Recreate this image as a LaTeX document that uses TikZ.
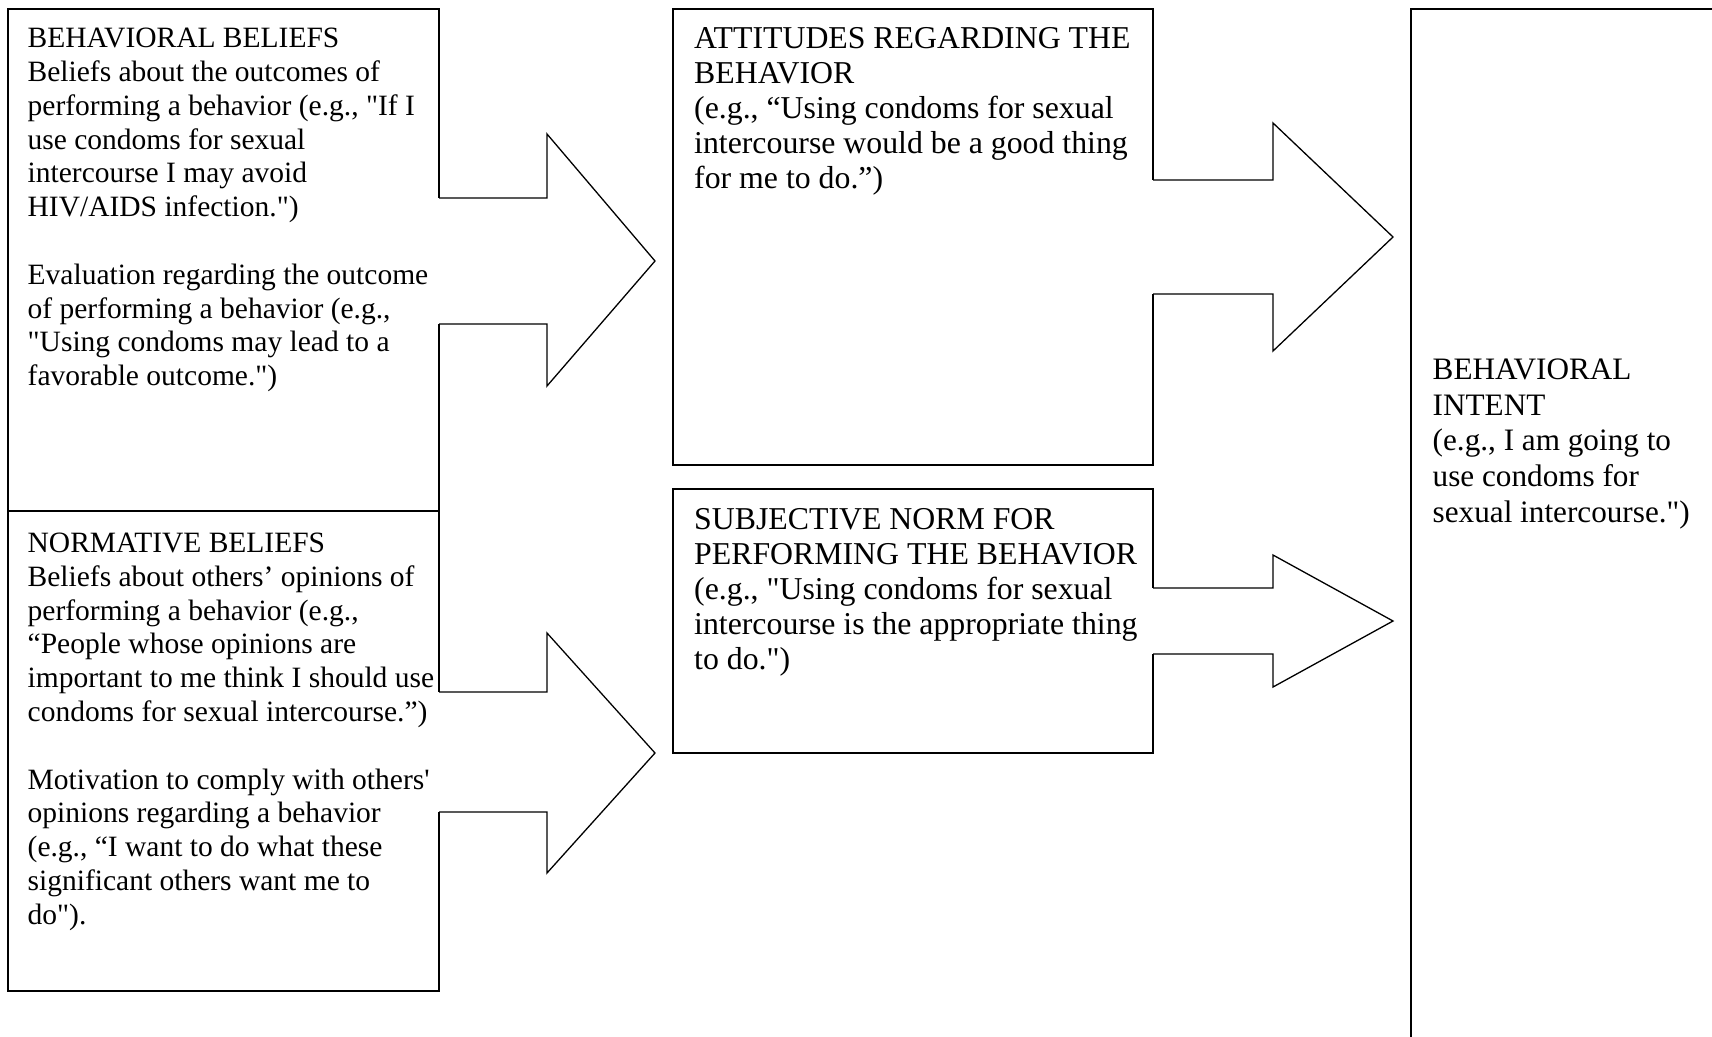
\documentclass[tikz,border=0pt]{standalone}
\usetikzlibrary{calc}
\font\fontL="Liberation Serif:-liga" at 29.5pt
\font\fontM="Liberation Serif:-liga" at 31.8pt
\font\fontR="Liberation Serif:-liga" at 31.2pt
\newcommand\firststrut{\vrule width 0pt height 25pt depth 0pt\relax}
\tikzset{
  box/.style={draw=black, line width=1.7pt, inner sep=0pt, outer sep=0pt, anchor=north west},
  arrowline/.style={draw=black, line width=1.3pt, line join=miter, line cap=butt},
  eraser/.style={draw=white, line width=3.2pt},
  txtL/.style={anchor=north west, inner sep=0pt, align=left, font={\fontL\baselineskip=33.8pt\relax}},
  txtM/.style={anchor=north west, inner sep=0pt, align=left, font={\fontM\baselineskip=35pt\relax}},
  txtR/.style={anchor=north west, inner sep=0pt, align=left, font={\fontR\baselineskip=35.8pt\relax}},
}
% #1 box node, #2 shaft end x, #3 tip x, #4 tip y, #5 shaft top, #6 shaft bottom, #7 head top, #8 head bottom
\newcommand\blockarrow[8]{%
  \draw[eraser] (#1.east |- 0,#5) -- (#1.east |- 0,#6);
  \draw[arrowline] (#1.east |- 0,#5) -- (#2,#5) -- (#2,#7) -- (#3,#4) -- (#2,#8) -- (#2,#6) -- (#1.east |- 0,#6);
}
\begin{document}
\begin{tikzpicture}[x=1pt, y=-1pt]
\useasboundingbox (0,0) rectangle (1712,1036);
\fill[white] (0,0) rectangle (1712,1036);
\clip (0,0) rectangle (1712,1036);

% boxes
\node[box, minimum width=431, minimum height=502] (bb) at (8,9) {};
\node[box, minimum width=431, minimum height=480] (nb) at (8,511) {};
\node[box, minimum width=480, minimum height=456] (att) at (673,9) {};
\node[box, minimum width=480, minimum height=264] (sn) at (673,489) {};
\node[box, minimum width=420, minimum height=1100] (bi) at (1411,9) {};

% texts
\node[txtL] (bbtext) at (27.5,22.5) {\firststrut BEHAVIORAL BELIEFS\\
Beliefs about the outcomes of\\
performing a behavior (e.g., "If I\\
use condoms for sexual\\
intercourse I may avoid\\
HIV/AIDS infection.")\\[33.8pt]
Evaluation regarding the outcome\\
of performing a behavior (e.g.,\\
"Using condoms may lead to a\\
favorable outcome.")};

\node[txtL] (nbtext) at (27.5,527.3) {\firststrut NORMATIVE BELIEFS\\
Beliefs about others’ opinions of\\
performing a behavior (e.g.,\\
“People whose opinions are\\
important to me think I should use\\
condoms for sexual intercourse.”)\\[33.8pt]
Motivation to comply with others'\\
opinions regarding a behavior\\
(e.g., “I want to do what these\\
significant others want me to\\
do").};

\node[txtM] (atttext) at (694,23) {\firststrut ATTITUDES REGARDING THE\\
BEHAVIOR\\
(e.g., “Using condoms for sexual\\
intercourse would be a good thing\\
for me to do.”)};

\node[txtM] (sntext) at (694,504) {\firststrut SUBJECTIVE NORM FOR\\
PERFORMING THE BEHAVIOR\\
(e.g., "Using condoms for sexual\\
intercourse is the appropriate thing\\
to do.")};

\node[txtR] (bitext) at (1432.5,354) {\firststrut BEHAVIORAL\\
INTENT\\
(e.g., I am going to\\
use condoms for\\
sexual intercourse.")};

% block arrows
\blockarrow{bb}{547}{655}{261}{198}{324}{134}{386}
\blockarrow{nb}{547}{655}{753}{692}{812}{633}{873}
\blockarrow{att}{1273}{1393}{237}{180}{294}{123}{351}
\blockarrow{sn}{1273}{1393}{621}{588}{654}{555}{687}
\end{tikzpicture}
\end{document}
